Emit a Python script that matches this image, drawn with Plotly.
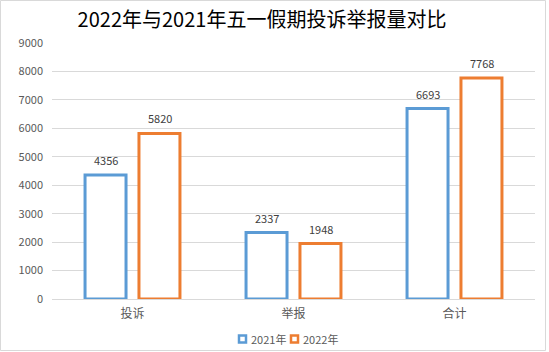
import plotly.graph_objects as go

categories = ["投诉", "举报", "合计"]
series_names = ["2021年", "2022年"]
values_2021 = [4356, 2337, 6693]
values_2022 = [5820, 1948, 7768]
y_ticks = [0, 1000, 2000, 3000, 4000, 5000, 6000, 7000, 8000, 9000]

colors = ["#5B9BD5", "#ED7D31"]
font_family = "Noto Sans CJK SC, Noto Sans, sans-serif"

W, H = 549, 352
L, R, T, B = 52, 14, 43, 53
pw, ph = W - L - R, H - T - B

def px_x(px):
    return (px - L) / pw

def px_y(py):
    return (H - B - py) / ph

fig = go.Figure()
annotations = []
shapes = []
for i, (name, vals, col) in enumerate(zip(series_names, [values_2021, values_2022], colors)):
    fig.add_trace(go.Bar(
        x=categories, y=vals, name=name, showlegend=False,
        marker=dict(color="white", line=dict(color=col, width=3)),
    ))
    shift = -27 if i == 0 else 27
    for c, v in zip(categories, vals):
        annotations.append(dict(x=c, y=v, xref="x", yref="y", text=str(v), showarrow=False,
                                xshift=shift, yshift=15, yanchor="middle",
                                font=dict(size=11, color="#404040", family=font_family)))

# custom legend (squares + real text)
legend_items = [(238, series_names[0], colors[0]), (290, series_names[1], colors[1])]
for x0, name, col in legend_items:
    shapes.append(dict(type="rect", xref="paper", yref="paper",
                       x0=px_x(x0 + 1), x1=px_x(x0 + 8), y0=px_y(342.5), y1=px_y(335.5),
                       line=dict(color=col, width=2.5), fillcolor="white"))
    annotations.append(dict(x=px_x(x0 + 11), y=px_y(339), xref="paper", yref="paper",
                            text=name, showarrow=False, xanchor="left", yanchor="middle",
                            font=dict(size=11, color="#595959", family=font_family)))

shapes.append(dict(type="rect", xref="paper", yref="paper",
                   x0=px_x(0.5), x1=px_x(545.5), y0=px_y(350.5), y1=px_y(0.5),
                   line=dict(color="#D9D9D9", width=1), fillcolor="rgba(0,0,0,0)", layer="below"))

fig.update_layout(
    width=W, height=H,
    margin=dict(l=L, r=R, t=T, b=B, autoexpand=False),
    paper_bgcolor="white", plot_bgcolor="white",
    barmode="group", bargap=0.33, bargroupgap=0.24,
    showlegend=False,
    title=dict(text="2022年与2021年五一假期投诉举报量对比", x=262 / W, xanchor="center",
               xref="container", y=1 - 20 / H, yref="container", yanchor="middle",
               font=dict(size=20, color="#000000", family=font_family)),
    font=dict(family=font_family, color="#595959"),
    xaxis=dict(showgrid=False, showline=False, ticks="", ticklabelstandoff=6,
               tickfont=dict(size=12, color="#595959")),
    yaxis=dict(range=[0, 9000], tickvals=y_ticks, showgrid=True, gridcolor="#D9D9D9",
               gridwidth=1, zeroline=True, zerolinecolor="#D9D9D9", zerolinewidth=1,
               showline=False, ticks="", ticklabelstandoff=8,
               tickfont=dict(size=11, color="#595959")),
    annotations=annotations,
    shapes=shapes,
)

fig.write_html("out.html")
